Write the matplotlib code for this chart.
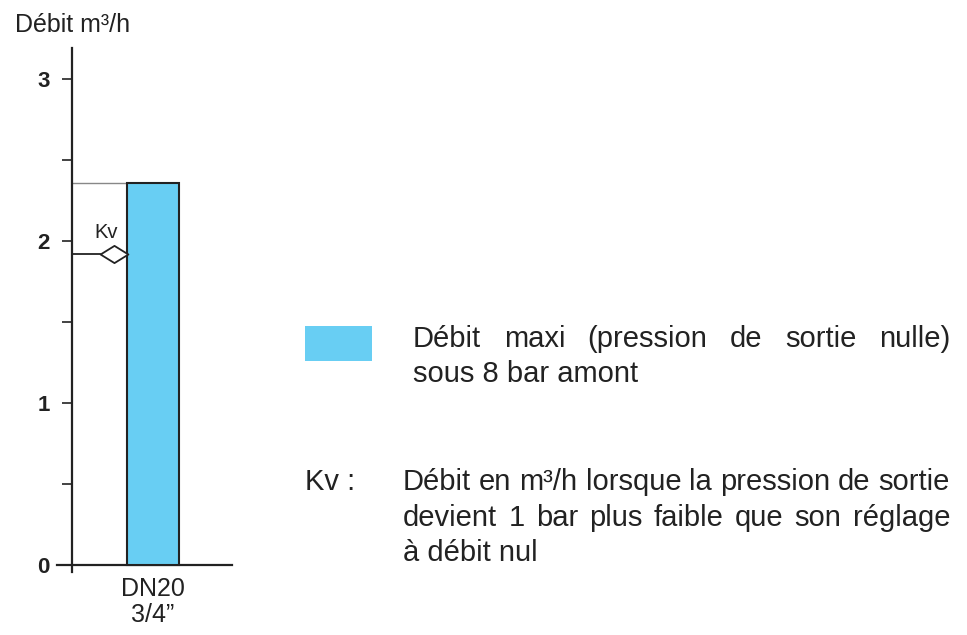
import matplotlib.pyplot as plt
from matplotlib.path import Path

# ------------------------------------------------------------
# Data
# ------------------------------------------------------------
categories = ['DN20\n3/4\u201d']
debit_maxi = [2.36]     # m3/h, max flow under 8 bar upstream
kv_values = [1.92]      # m3/h
y_ticks = [0, 1, 2, 3]
y_minor = [0.5, 1.5, 2.5]

legend_line1 = 'Débit maxi (pression de sortie nulle)'
legend_line2 = 'sous 8 bar amont'
kv_lines = ['Débit en m\u00b3/h lorsque la pression de sortie',
            'devient 1 bar plus faible que son réglage',
            'à débit nul']

BLUE = '#68CEF3'
INK = '#222222'
plt.rcParams['font.family'] = ['Liberation Sans', 'DejaVu Sans']

W, H = 967, 635
fig = plt.figure(figsize=(W / 100, H / 100), dpi=100)


def fx(px):
    return px / W


def fy(py):
    return 1 - py / H


# ------------------------------------------------------------
# Bar chart
# ------------------------------------------------------------
ax = fig.add_axes([fx(57), fy(572), fx(232) - fx(57), fy(48) - fy(572)])
ax.set_xlim(-0.15, 1.60)
ax.set_ylim(-7 / 162, 3 + 31 / 162)

xpos = [0.81]
ax.bar(xpos, debit_maxi, width=0.52, color=BLUE, edgecolor=INK,
       linewidth=1.5, zorder=3)

# reference line at the bar top
for x, v in zip(xpos, debit_maxi):
    ax.plot([0, x - 0.26], [v, v], color='#888888', lw=1.0, zorder=2)

# Kv marker
diamond = Path([(-1, 0), (0, 0.62), (1, 0), (0, -0.62), (-1, 0)],
               [Path.MOVETO, Path.LINETO, Path.LINETO, Path.LINETO, Path.CLOSEPOLY])
for x, k in zip(xpos, kv_values):
    xd = x - 0.26 - 0.135
    ax.plot([0, xd - 0.135], [k, k], color=INK, lw=1.3, zorder=2)
    ax.plot([xd], [k], marker=diamond, markersize=20, markerfacecolor='white',
            markeredgecolor=INK, markeredgewidth=1.3, zorder=4)
    ax.text(xd - 0.07, k + 0.13, 'Kv', ha='center', va='center',
            fontsize=14.5, color=INK)

for s in ['top', 'right']:
    ax.spines[s].set_visible(False)
ax.spines['left'].set_position(('data', 0))
ax.spines['bottom'].set_position(('data', 0))
for s in ['left', 'bottom']:
    ax.spines[s].set_linewidth(1.6)
    ax.spines[s].set_color(INK)

ax.set_yticks(y_ticks)
ax.set_yticklabels([str(t) for t in y_ticks], fontweight='bold', fontsize=16,
                   color=INK)
ax.set_yticks(y_minor, minor=True)
ax.tick_params(axis='y', which='both', direction='out', length=7,
               width=1.2, color=INK, pad=9)
ax.set_xticks(xpos)
ax.set_xticklabels(categories, fontsize=18, color=INK, linespacing=1.1)
ax.tick_params(axis='x', length=0, pad=9)
ax.patch.set_alpha(0)

fig.text(fx(15), fy(25), 'Débit m\u00b3/h', fontsize=18, color=INK,
         ha='left', va='center')

# ------------------------------------------------------------
# Legend / notes (justified text)
# ------------------------------------------------------------
renderer = fig.canvas.get_renderer()
NOTE_SIZE = 21


def justified(line, x0, x1, y, size=NOTE_SIZE):
    words = line.split()
    texts = [fig.text(0, fy(y), w, fontsize=size, color=INK, ha='left',
                      va='center') for w in words]
    widths = [t.get_window_extent(renderer).width for t in texts]
    gap = (x1 - x0 - sum(widths)) / max(len(words) - 1, 1)
    x = x0
    for t, wd in zip(texts, widths):
        t.set_x(fx(x))
        x += wd + gap


def plain(line, x0, y, size=NOTE_SIZE):
    fig.text(fx(x0), fy(y), line, fontsize=size, color=INK, ha='left',
             va='center')


fig.patches.append(plt.Rectangle((fx(305), fy(361)), fx(372) - fx(305),
                                 fy(326) - fy(361), transform=fig.transFigure,
                                 facecolor=BLUE, edgecolor='none'))
justified(legend_line1, 413, 950, 339)
plain(legend_line2, 413, 374)

plain('Kv :', 305, 482)
justified(kv_lines[0], 403, 950, 482)
justified(kv_lines[1], 403, 950, 518)
plain(kv_lines[2], 403, 553)

fig.savefig('out.png', dpi=100)
